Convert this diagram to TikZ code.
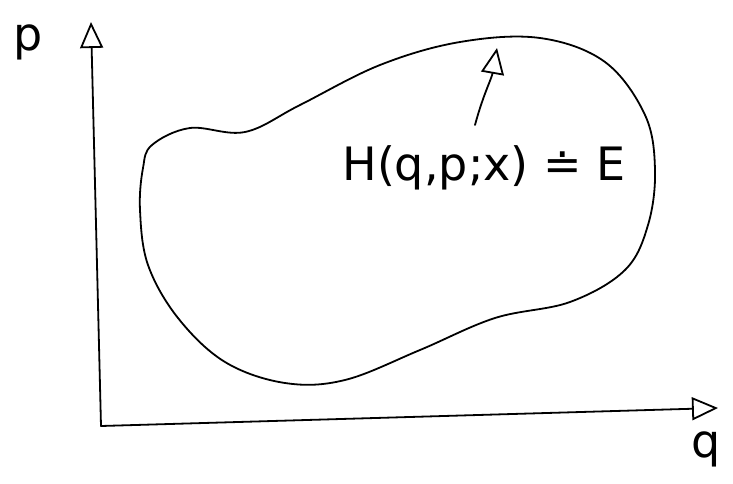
\documentclass[tikz,border=0pt]{standalone}
\usepackage{fontspec}
\setsansfont{DejaVu Sans}
\usetikzlibrary{arrows.meta}
\begin{document}
\begin{tikzpicture}[x=1pt,y=-1pt,
  ink/.style={line width=1.8pt,black,line cap=round,line join=round},
  opentip/.style={-{Triangle[open,length=26pt,width=23pt,line width=1.8pt]}},
  hand/.style={font=\sffamily\fontsize{46}{56}\selectfont,inner sep=0pt}]
\useasboundingbox (0,0) rectangle (733,484);
\fill[white] (0,0) rectangle (733,484);
\coordinate (O) at (101,426);
\coordinate (ptop) at (91,22);
\coordinate (qend) at (718,408);
\draw[ink,opentip] (O) -- (ptop);
\draw[ink,opentip] (O) -- (qend);
\node[hand] (plab) at (28,42) {p};
\node[hand] (qlab) at (706,449) {q};
\draw[ink] plot[smooth cycle,tension=0.6] coordinates {
  (152,145) (190,128) (245,132) (300,105) (380,65) (460,42) (540,38)
  (605,62) (645,115) (655,170) (648,225) (625,270) (570,302)
  (495,318) (420,350) (345,380) (285,383) (225,362) (178,318)
  (148,265) (140,210) (143,168)};
\node[hand] (lab) at (484,168) {H(q,p;x) ≐ E};
\coordinate (tip) at (497,48);
\draw[ink,opentip] (475,125) to[out=75,in=-100] (tip);
\end{tikzpicture}
\end{document}
